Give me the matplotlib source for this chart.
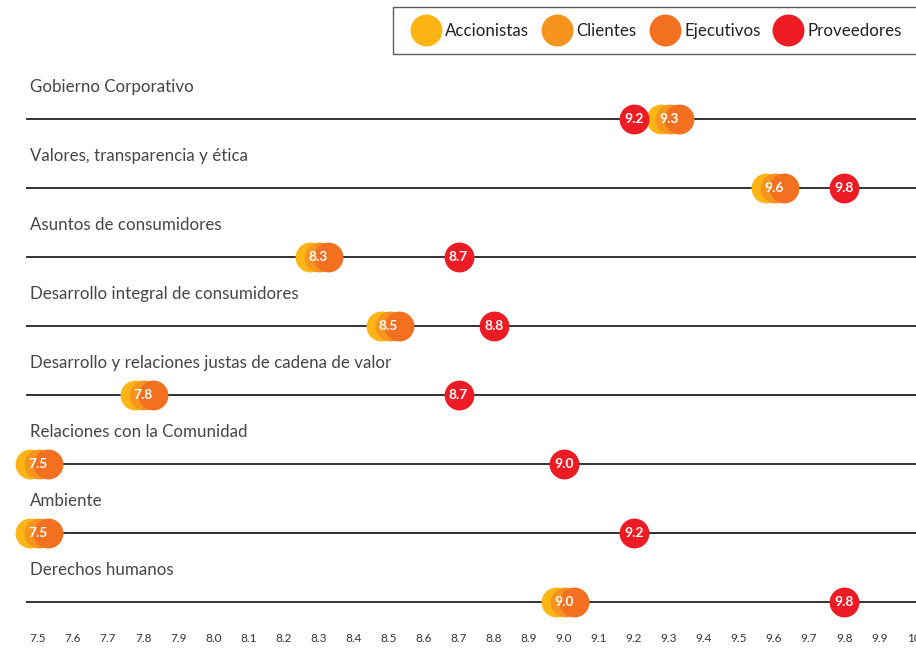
import matplotlib
matplotlib.use("Agg")
import matplotlib.pyplot as plt
from matplotlib.lines import Line2D
import matplotlib.transforms as mtransforms

categories = [
    "Gobierno Corporativo",
    "Valores, transparencia y ética",
    "Asuntos de consumidores",
    "Desarrollo integral de consumidores",
    "Desarrollo y relaciones justas de cadena de valor",
    "Relaciones con la Comunidad",
    "Ambiente",
    "Derechos humanos",
]
accionistas = [9.3, 9.6, 8.3, 8.5, 7.8, 7.5, 7.5, 9.0]
clientes    = [9.3, 9.6, 8.3, 8.5, 7.8, 7.5, 7.5, 9.0]
ejecutivos  = [9.3, 9.6, 8.3, 8.5, 7.8, 7.5, 7.5, 9.0]
proveedores = [9.2, 9.8, 8.7, 8.8, 8.7, 9.0, 9.2, 9.8]
series_names = ["Accionistas", "Clientes", "Ejecutivos", "Proveedores"]
tick_values = [7.5 + 0.1 * i for i in range(26)]
tick_labels = ["7.5", "7.6", "7.7", "7.8", "7.9", "8.0", "8.1", "8.2", "8.3", "8.4",
               "8.5", "8.6", "8.7", "8.8", "8.9", "9.0", "9.1", "9.2", "9.3", "9.4",
               "9.5", "9.6", "9.7", "9.8", "9.9", "10"]

colors = {"Accionistas": "#FDB515", "Clientes": "#F7941D",
          "Ejecutivos": "#F37021", "Proveedores": "#ED1C24"}

plt.rcParams['font.family'] = ['Lato', 'DejaVu Sans']

W, H = 916, 648
fig = plt.figure(figsize=(W / 100, H / 100), dpi=100)
top_px, bot_px = 60, 625
left_px = 26
ax = fig.add_axes([left_px / W, 1 - bot_px / H, (W - left_px) / W, (bot_px - top_px) / H])

row0_px, row_step = 119, 69.0
ax.set_ylim((bot_px - row0_px) / row_step, (top_px - row0_px) / row_step)
px_per_unit = 350.5
xmin = 7.5 - (38 - left_px) / px_per_unit
xmax = 7.5 + (W - 38) / px_per_unit
ax.set_xlim(xmin, xmax)

for s in ax.spines.values():
    s.set_visible(False)
ax.set_yticks([])
ax.set_xticks(tick_values)
ax.set_xticklabels(tick_labels, fontsize=8.5, color="#333333")
ax.tick_params(axis="x", length=0, pad=6)

ms = 21.5
offsets = {"Accionistas": -8, "Clientes": 1, "Ejecutivos": 10}
rows = list(range(len(categories)))

lab_tr = mtransforms.blended_transform_factory(ax.transAxes, ax.transData)
for i, cat in enumerate(categories):
    ax.axhline(i, color="#222222", lw=1.3, zorder=1)
    ax.text(0.004, i - 0.46, cat, transform=lab_tr,
            ha="left", va="center", fontsize=12.2, color="#454545")

for name, vals in [("Accionistas", accionistas), ("Clientes", clientes), ("Ejecutivos", ejecutivos)]:
    tr = ax.transData + mtransforms.ScaledTranslation(offsets[name] / 100, 0, fig.dpi_scale_trans)
    ax.plot(vals, rows, "o", ms=ms, color=colors[name], mec="none", transform=tr, zorder=3, clip_on=False)

ax.plot(proveedores, rows, "o", ms=ms, color=colors["Proveedores"], mec="none", zorder=4, clip_on=False)

for i in rows:
    ax.text(ejecutivos[i], i, f"{ejecutivos[i]:.1f}", ha="center", va="center",
            fontsize=10, fontweight="bold", color="white", zorder=5)
    ax.text(proveedores[i], i, f"{proveedores[i]:.1f}", ha="center", va="center",
            fontsize=10, fontweight="bold", color="white", zorder=5)

handles = [Line2D([], [], ls="none", marker="o", ms=23, color=colors[n], mec="none") for n in series_names]
leg = fig.legend(handles, series_names, loc="upper left", bbox_to_anchor=(393 / W, 1 - 7 / H),
                 ncol=4, frameon=True, fancybox=False, fontsize=12.2, handletextpad=0.15,
                 columnspacing=0.65, borderpad=0.92, handlelength=2.0, borderaxespad=0)
leg.get_frame().set_edgecolor("#333333")
leg.get_frame().set_linewidth(1.0)
for t in leg.get_texts():
    t.set_color("#222222")

fig.savefig("out.png", dpi=100)
